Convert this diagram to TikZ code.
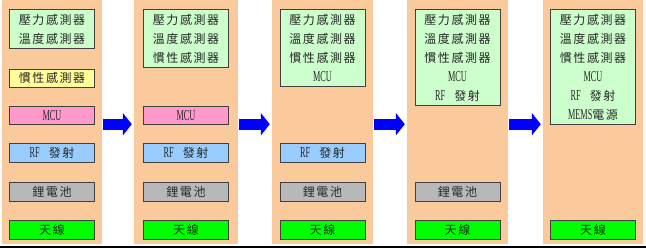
\documentclass[tikz,border=0pt]{standalone}
\usepackage{fontspec}
\usepackage{graphicx}
\setmainfont{Liberation Serif}
\newfontfamily\cjk[LetterSpace=13]{Noto Sans CJK TC}
\newcommand{\hw}[1]{\scalebox{0.55}[1]{\rmfamily\fontsize{15}{19}\selectfont #1}}
\usetikzlibrary{arrows.meta}
\definecolor{peach}{HTML}{FACA9C}
\definecolor{sensgreen}{HTML}{CCFFCC}
\definecolor{inyellow}{HTML}{FFFF99}
\definecolor{mcupink}{HTML}{FF99CC}
\definecolor{rfblue}{HTML}{99CCFF}
\definecolor{batgray}{HTML}{B8B8B8}
\definecolor{antgreen}{HTML}{00FF00}
\definecolor{arrowblue}{HTML}{0000FF}
\tikzset{
  panel/.style = {fill=peach, minimum width=#1, minimum height=244pt, inner sep=0pt, anchor=north},
  part/.style = {draw=black!75, line width=0.8pt, fill=#1, minimum width=85pt, minimum height=18.5pt,
                 inner sep=0pt, anchor=north, align=center, text=black!85,
                 font=\cjk\fontsize{12}{19}\selectfont},
  bigarrow/.style = {draw=arrowblue, line width=11pt, -{Triangle[length=9pt,width=22pt]},
                     shorten <=1pt, shorten >=2pt}
}
\begin{document}
\begin{tikzpicture}[x=1pt,y=-1pt]
\useasboundingbox (0,0) rectangle (646,249);
% panels
\foreach \i/\x/\w in {1/52/100, 2/186/104, 3/322.5/101, 4/457.5/101, 5/593/100}{
\node [panel=\w pt] (p\i) at (\x,0) {};
}
\foreach \a/\b in {1/2, 2/3, 3/4, 4/5}{
\draw [bigarrow] ([yshift=-2pt]p\a.east) -- ([yshift=-2pt]p\b.west);
}

\node [part=sensgreen, minimum height=39pt] (s1) at (52,9) {壓力感測器\\溫度感測器};
\node [part=inyellow] (i1) at (52,68.5) {慣性感測器};
\node [part=mcupink] (m1) at (52,105.5) {\hw{MCU}};
\node [part=rfblue] (r1) at (52,143) {\hw{RF}\hspace{9pt}發射};
\node [part=batgray] (b1) at (52,182) {鋰電池};
\node [part=antgreen, text=green!20!black] (a1) at (52,220) {天線};

\node [part=sensgreen, minimum height=58pt] (s2) at (186,9) {壓力感測器\\溫度感測器\\慣性感測器};
\node [part=mcupink] (m2) at (186,105.5) {\hw{MCU}};
\node [part=rfblue] (r2) at (186,143) {\hw{RF}\hspace{9pt}發射};
\node [part=batgray] (b2) at (186,182) {鋰電池};
\node [part=antgreen, text=green!20!black] (a2) at (186,220) {天線};

\node [part=sensgreen, minimum height=77pt] (s3) at (322.5,9) {壓力感測器\\溫度感測器\\慣性感測器\\\hw{MCU}};
\node [part=rfblue] (r3) at (322.5,143) {\hw{RF}\hspace{9pt}發射};
\node [part=batgray] (b3) at (322.5,182) {鋰電池};
\node [part=antgreen, text=green!20!black] (a3) at (322.5,220) {天線};

\node [part=sensgreen, minimum height=96pt] (s4) at (457.5,9) {壓力感測器\\溫度感測器\\慣性感測器\\\hw{MCU}\\\hw{RF}\hspace{9pt}發射};
\node [part=batgray] (b4) at (457.5,182) {鋰電池};
\node [part=antgreen, text=green!20!black] (a4) at (457.5,220) {天線};

\node [part=sensgreen, minimum height=115pt] (s5) at (593,9) {壓力感測器\\溫度感測器\\慣性感測器\\\hw{MCU}\\\hw{RF}\hspace{9pt}發射\\\hw{MEMS}電源};
\node [part=antgreen, text=green!20!black] (a5) at (593,220) {天線};

\draw [line width=1.6pt] (0,246.8) -- (646,246.8);
\end{tikzpicture}
\end{document}
